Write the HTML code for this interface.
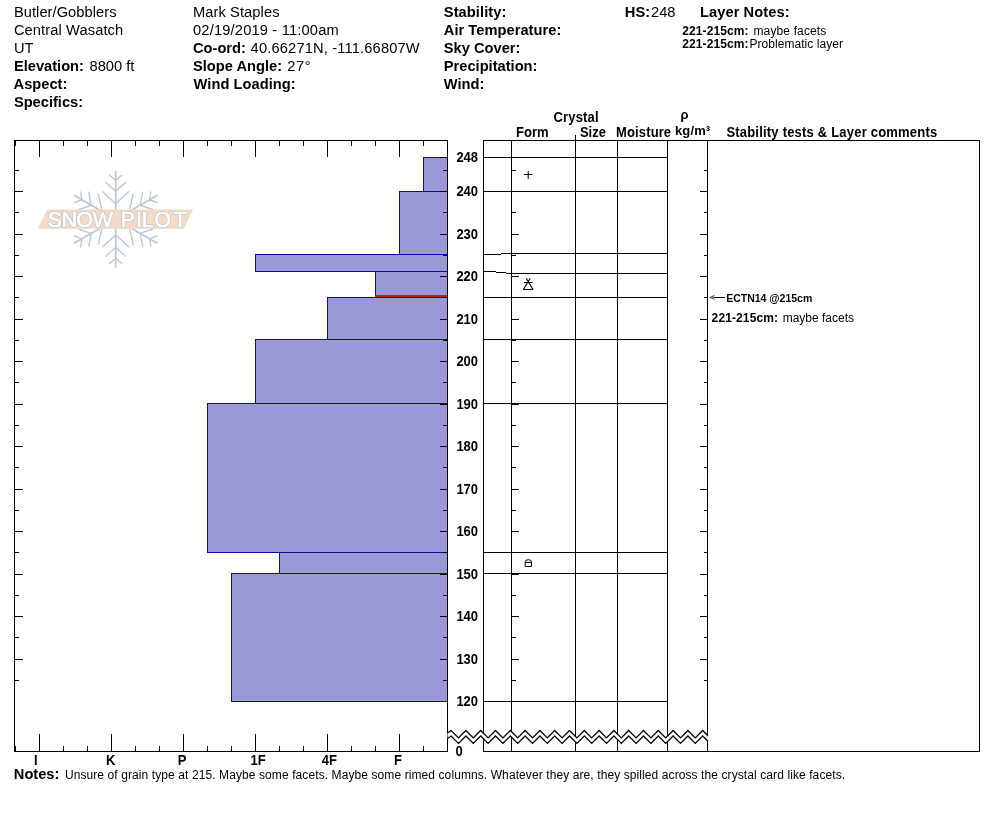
<!DOCTYPE html>
<html lang="en"><head><meta charset="utf-8"><title>Snow Pilot Pit Profile</title>
<style>
html,body{margin:0;padding:0;background:#fff;}
body{width:994px;height:840px;overflow:hidden;}
svg{display:block;}
text{font-family:"Liberation Sans",sans-serif;fill:#000;white-space:pre;}
</style></head><body>
<svg width="994" height="840" viewBox="0 0 994 840">
<rect width="994" height="840" fill="#fff"/>
<g shape-rendering="geometricPrecision"><g transform="translate(115.7,219.3) rotate(0)" stroke="#BAC7D1" stroke-linecap="round" fill="none"><line x1="0" y1="0" x2="0" y2="-47.6" stroke-width="1.7"/><path d="M-6.22,-44.13 L0,-39.1 L6.22,-44.13" stroke-width="1.35"/><path d="M-9.96,-36.86 L0,-28.2 L9.96,-36.86" stroke-width="1.35"/><path d="M-12.87,-27.50 L0,-15.5 L12.87,-27.50" stroke-width="1.35"/></g><g transform="translate(115.7,219.3) rotate(-60)" stroke="#BAC7D1" stroke-linecap="round" fill="none"><line x1="0" y1="0" x2="0" y2="-47.6" stroke-width="1.7"/><path d="M-6.22,-44.13 L0,-39.1 L6.22,-44.13" stroke-width="1.35"/><path d="M-9.96,-36.86 L0,-28.2 L9.96,-36.86" stroke-width="1.35"/><path d="M-12.87,-27.50 L0,-15.5 L12.87,-27.50" stroke-width="1.35"/></g><g transform="translate(115.7,219.3) rotate(-120)" stroke="#BAC7D1" stroke-linecap="round" fill="none"><line x1="0" y1="0" x2="0" y2="-47.6" stroke-width="1.7"/><path d="M-6.22,-44.13 L0,-39.1 L6.22,-44.13" stroke-width="1.35"/><path d="M-9.96,-36.86 L0,-28.2 L9.96,-36.86" stroke-width="1.35"/><path d="M-12.87,-27.50 L0,-15.5 L12.87,-27.50" stroke-width="1.35"/></g><g transform="translate(115.7,219.3) rotate(-180)" stroke="#BAC7D1" stroke-linecap="round" fill="none"><line x1="0" y1="0" x2="0" y2="-47.6" stroke-width="1.7"/><path d="M-6.22,-44.13 L0,-39.1 L6.22,-44.13" stroke-width="1.35"/><path d="M-9.96,-36.86 L0,-28.2 L9.96,-36.86" stroke-width="1.35"/><path d="M-12.87,-27.50 L0,-15.5 L12.87,-27.50" stroke-width="1.35"/></g><g transform="translate(115.7,219.3) rotate(-240)" stroke="#BAC7D1" stroke-linecap="round" fill="none"><line x1="0" y1="0" x2="0" y2="-47.6" stroke-width="1.7"/><path d="M-6.22,-44.13 L0,-39.1 L6.22,-44.13" stroke-width="1.35"/><path d="M-9.96,-36.86 L0,-28.2 L9.96,-36.86" stroke-width="1.35"/><path d="M-12.87,-27.50 L0,-15.5 L12.87,-27.50" stroke-width="1.35"/></g><g transform="translate(115.7,219.3) rotate(-300)" stroke="#BAC7D1" stroke-linecap="round" fill="none"><line x1="0" y1="0" x2="0" y2="-47.6" stroke-width="1.7"/><path d="M-6.22,-44.13 L0,-39.1 L6.22,-44.13" stroke-width="1.35"/><path d="M-9.96,-36.86 L0,-28.2 L9.96,-36.86" stroke-width="1.35"/><path d="M-12.87,-27.50 L0,-15.5 L12.87,-27.50" stroke-width="1.35"/></g>
<polygon points="47.2,209.5 193.2,209.5 183.8,228.8 37.8,228.8" fill="#F1DBC8"/>
<g font-size="21.6" stroke-linejoin="round"><text style="fill:#AEBAC6;stroke:#AEBAC6;stroke-width:1.7px" x="47.6 61.5 76.3 92.6" y="227.3">SNOW</text><text style="fill:#AEBAC6;stroke:#AEBAC6;stroke-width:1.7px" x="120.6 136.0 141.7 154.3 173.5" y="227.3">PILOT</text><text style="fill:#fff;stroke:#fff;stroke-width:0.7px" x="47.6 61.5 76.3 92.6" y="227.3">SNOW</text><text style="fill:#fff;stroke:#fff;stroke-width:0.7px" x="120.6 136.0 141.7 154.3 173.5" y="227.3">PILOT</text></g></g>
<g shape-rendering="crispEdges">
<rect x="423" y="157" width="24" height="35" fill="#0D08A6"/>
<rect x="424" y="158" width="23" height="33" fill="#9B99D5"/>
<rect x="399" y="191" width="48" height="64" fill="#0D08A6"/>
<rect x="400" y="192" width="47" height="62" fill="#9B99D5"/>
<rect x="255" y="254" width="192" height="18" fill="#0D08A6"/>
<rect x="256" y="255" width="191" height="16" fill="#9B99D5"/>
<rect x="375" y="271" width="72" height="27" fill="#0D08A6"/>
<rect x="376" y="272" width="71" height="25" fill="#9B99D5"/>
<rect x="327" y="297" width="120" height="43" fill="#0D08A6"/>
<rect x="328" y="298" width="119" height="41" fill="#9B99D5"/>
<rect x="255" y="339" width="192" height="65" fill="#0D08A6"/>
<rect x="256" y="340" width="191" height="63" fill="#9B99D5"/>
<rect x="207" y="403" width="240" height="150" fill="#0D08A6"/>
<rect x="208" y="404" width="239" height="148" fill="#9B99D5"/>
<rect x="279" y="552" width="168" height="22" fill="#0D08A6"/>
<rect x="280" y="553" width="167" height="20" fill="#9B99D5"/>
<rect x="231" y="573" width="216" height="129" fill="#0D08A6"/>
<rect x="232" y="574" width="215" height="127" fill="#9B99D5"/>
<rect x="375" y="295" width="72" height="2" fill="#BC2016"/>
<rect x="14" y="140" width="434" height="1" fill="#000"/>
<rect x="14" y="751" width="434" height="1" fill="#000"/>
<rect x="14" y="140" width="1" height="612" fill="#000"/>
<rect x="447" y="140" width="1" height="612" fill="#000"/>
<rect x="15" y="141" width="1" height="5" fill="#000"/>
<rect x="15" y="746" width="1" height="5" fill="#000"/>
<rect x="39" y="141" width="1" height="16" fill="#000"/>
<rect x="39" y="734" width="1" height="17" fill="#000"/>
<rect x="63" y="141" width="1" height="5" fill="#000"/>
<rect x="63" y="746" width="1" height="5" fill="#000"/>
<rect x="87" y="141" width="1" height="5" fill="#000"/>
<rect x="87" y="746" width="1" height="5" fill="#000"/>
<rect x="111" y="141" width="1" height="16" fill="#000"/>
<rect x="111" y="734" width="1" height="17" fill="#000"/>
<rect x="135" y="141" width="1" height="5" fill="#000"/>
<rect x="135" y="746" width="1" height="5" fill="#000"/>
<rect x="159" y="141" width="1" height="5" fill="#000"/>
<rect x="159" y="746" width="1" height="5" fill="#000"/>
<rect x="183" y="141" width="1" height="16" fill="#000"/>
<rect x="183" y="734" width="1" height="17" fill="#000"/>
<rect x="207" y="141" width="1" height="5" fill="#000"/>
<rect x="207" y="746" width="1" height="5" fill="#000"/>
<rect x="231" y="141" width="1" height="5" fill="#000"/>
<rect x="231" y="746" width="1" height="5" fill="#000"/>
<rect x="255" y="141" width="1" height="16" fill="#000"/>
<rect x="255" y="734" width="1" height="17" fill="#000"/>
<rect x="279" y="141" width="1" height="5" fill="#000"/>
<rect x="279" y="746" width="1" height="5" fill="#000"/>
<rect x="303" y="141" width="1" height="5" fill="#000"/>
<rect x="303" y="746" width="1" height="5" fill="#000"/>
<rect x="327" y="141" width="1" height="16" fill="#000"/>
<rect x="327" y="734" width="1" height="17" fill="#000"/>
<rect x="351" y="141" width="1" height="5" fill="#000"/>
<rect x="351" y="746" width="1" height="5" fill="#000"/>
<rect x="375" y="141" width="1" height="5" fill="#000"/>
<rect x="375" y="746" width="1" height="5" fill="#000"/>
<rect x="399" y="141" width="1" height="16" fill="#000"/>
<rect x="399" y="734" width="1" height="17" fill="#000"/>
<rect x="423" y="141" width="1" height="5" fill="#000"/>
<rect x="423" y="746" width="1" height="5" fill="#000"/>
<rect x="15" y="680" width="4" height="1" fill="#000"/>
<rect x="443" y="680" width="4" height="1" fill="#000"/>
<rect x="512" y="680" width="4" height="1" fill="#000"/>
<rect x="704" y="680" width="3" height="1" fill="#000"/>
<rect x="15" y="659" width="8" height="1" fill="#000"/>
<rect x="440" y="659" width="7" height="1" fill="#000"/>
<rect x="512" y="659" width="7" height="1" fill="#000"/>
<rect x="700" y="659" width="7" height="1" fill="#000"/>
<rect x="15" y="637" width="4" height="1" fill="#000"/>
<rect x="443" y="637" width="4" height="1" fill="#000"/>
<rect x="512" y="637" width="4" height="1" fill="#000"/>
<rect x="704" y="637" width="3" height="1" fill="#000"/>
<rect x="15" y="616" width="8" height="1" fill="#000"/>
<rect x="440" y="616" width="7" height="1" fill="#000"/>
<rect x="512" y="616" width="7" height="1" fill="#000"/>
<rect x="700" y="616" width="7" height="1" fill="#000"/>
<rect x="15" y="595" width="4" height="1" fill="#000"/>
<rect x="443" y="595" width="4" height="1" fill="#000"/>
<rect x="512" y="595" width="4" height="1" fill="#000"/>
<rect x="704" y="595" width="3" height="1" fill="#000"/>
<rect x="15" y="574" width="8" height="1" fill="#000"/>
<rect x="440" y="574" width="7" height="1" fill="#000"/>
<rect x="512" y="574" width="7" height="1" fill="#000"/>
<rect x="700" y="574" width="7" height="1" fill="#000"/>
<rect x="15" y="552" width="4" height="1" fill="#000"/>
<rect x="443" y="552" width="4" height="1" fill="#000"/>
<rect x="512" y="552" width="4" height="1" fill="#000"/>
<rect x="704" y="552" width="3" height="1" fill="#000"/>
<rect x="15" y="531" width="8" height="1" fill="#000"/>
<rect x="440" y="531" width="7" height="1" fill="#000"/>
<rect x="512" y="531" width="7" height="1" fill="#000"/>
<rect x="700" y="531" width="7" height="1" fill="#000"/>
<rect x="15" y="510" width="4" height="1" fill="#000"/>
<rect x="443" y="510" width="4" height="1" fill="#000"/>
<rect x="512" y="510" width="4" height="1" fill="#000"/>
<rect x="704" y="510" width="3" height="1" fill="#000"/>
<rect x="15" y="489" width="8" height="1" fill="#000"/>
<rect x="440" y="489" width="7" height="1" fill="#000"/>
<rect x="512" y="489" width="7" height="1" fill="#000"/>
<rect x="700" y="489" width="7" height="1" fill="#000"/>
<rect x="15" y="467" width="4" height="1" fill="#000"/>
<rect x="443" y="467" width="4" height="1" fill="#000"/>
<rect x="512" y="467" width="4" height="1" fill="#000"/>
<rect x="704" y="467" width="3" height="1" fill="#000"/>
<rect x="15" y="446" width="8" height="1" fill="#000"/>
<rect x="440" y="446" width="7" height="1" fill="#000"/>
<rect x="512" y="446" width="7" height="1" fill="#000"/>
<rect x="700" y="446" width="7" height="1" fill="#000"/>
<rect x="15" y="425" width="4" height="1" fill="#000"/>
<rect x="443" y="425" width="4" height="1" fill="#000"/>
<rect x="512" y="425" width="4" height="1" fill="#000"/>
<rect x="704" y="425" width="3" height="1" fill="#000"/>
<rect x="15" y="404" width="8" height="1" fill="#000"/>
<rect x="440" y="404" width="7" height="1" fill="#000"/>
<rect x="512" y="404" width="7" height="1" fill="#000"/>
<rect x="700" y="404" width="7" height="1" fill="#000"/>
<rect x="15" y="382" width="4" height="1" fill="#000"/>
<rect x="443" y="382" width="4" height="1" fill="#000"/>
<rect x="512" y="382" width="4" height="1" fill="#000"/>
<rect x="704" y="382" width="3" height="1" fill="#000"/>
<rect x="15" y="361" width="8" height="1" fill="#000"/>
<rect x="440" y="361" width="7" height="1" fill="#000"/>
<rect x="512" y="361" width="7" height="1" fill="#000"/>
<rect x="700" y="361" width="7" height="1" fill="#000"/>
<rect x="15" y="340" width="4" height="1" fill="#000"/>
<rect x="443" y="340" width="4" height="1" fill="#000"/>
<rect x="512" y="340" width="4" height="1" fill="#000"/>
<rect x="704" y="340" width="3" height="1" fill="#000"/>
<rect x="15" y="319" width="8" height="1" fill="#000"/>
<rect x="440" y="319" width="7" height="1" fill="#000"/>
<rect x="512" y="319" width="7" height="1" fill="#000"/>
<rect x="700" y="319" width="7" height="1" fill="#000"/>
<rect x="15" y="297" width="4" height="1" fill="#000"/>
<rect x="443" y="297" width="4" height="1" fill="#000"/>
<rect x="512" y="297" width="4" height="1" fill="#000"/>
<rect x="704" y="297" width="3" height="1" fill="#000"/>
<rect x="15" y="276" width="8" height="1" fill="#000"/>
<rect x="440" y="276" width="7" height="1" fill="#000"/>
<rect x="512" y="276" width="7" height="1" fill="#000"/>
<rect x="700" y="276" width="7" height="1" fill="#000"/>
<rect x="15" y="255" width="4" height="1" fill="#000"/>
<rect x="443" y="255" width="4" height="1" fill="#000"/>
<rect x="512" y="255" width="4" height="1" fill="#000"/>
<rect x="704" y="255" width="3" height="1" fill="#000"/>
<rect x="15" y="234" width="8" height="1" fill="#000"/>
<rect x="440" y="234" width="7" height="1" fill="#000"/>
<rect x="512" y="234" width="7" height="1" fill="#000"/>
<rect x="700" y="234" width="7" height="1" fill="#000"/>
<rect x="15" y="212" width="4" height="1" fill="#000"/>
<rect x="443" y="212" width="4" height="1" fill="#000"/>
<rect x="512" y="212" width="4" height="1" fill="#000"/>
<rect x="704" y="212" width="3" height="1" fill="#000"/>
<rect x="15" y="191" width="8" height="1" fill="#000"/>
<rect x="440" y="191" width="7" height="1" fill="#000"/>
<rect x="512" y="191" width="7" height="1" fill="#000"/>
<rect x="700" y="191" width="7" height="1" fill="#000"/>
<rect x="15" y="170" width="4" height="1" fill="#000"/>
<rect x="443" y="170" width="4" height="1" fill="#000"/>
<rect x="512" y="170" width="4" height="1" fill="#000"/>
<rect x="704" y="170" width="3" height="1" fill="#000"/>
<rect x="440" y="157" width="7" height="1" fill="#000"/>
<rect x="483" y="140" width="1" height="612" fill="#000"/>
<rect x="511" y="140" width="1" height="612" fill="#000"/>
<rect x="617" y="140" width="1" height="612" fill="#000"/>
<rect x="667" y="140" width="1" height="612" fill="#000"/>
<rect x="707" y="140" width="1" height="612" fill="#000"/>
<rect x="979" y="140" width="1" height="612" fill="#000"/>
<rect x="575" y="135" width="1" height="617" fill="#000"/>
<rect x="483" y="140" width="497" height="1" fill="#000"/>
<rect x="483" y="751" width="497" height="1" fill="#000"/>
<rect x="483" y="157" width="185" height="1" fill="#000"/>
<rect x="483" y="191" width="185" height="1" fill="#000"/>
<rect x="483" y="297" width="185" height="1" fill="#000"/>
<rect x="483" y="339" width="185" height="1" fill="#000"/>
<rect x="483" y="403" width="185" height="1" fill="#000"/>
<rect x="483" y="552" width="185" height="1" fill="#000"/>
<rect x="483" y="573" width="185" height="1" fill="#000"/>
<rect x="483" y="701" width="185" height="1" fill="#000"/>
<rect x="511" y="253" width="157" height="1" fill="#000"/>
<rect x="511" y="273" width="157" height="1" fill="#000"/>
</g>
<g shape-rendering="crispEdges">
<rect x="483" y="254" width="18" height="1" fill="#000"/>
<rect x="501" y="253" width="11" height="1" fill="#000"/>
<rect x="483" y="271" width="13" height="1" fill="#000"/>
<rect x="496" y="272" width="10" height="1" fill="#000"/>
<rect x="506" y="273" width="6" height="1" fill="#000"/>
</g>
<polygon points="447.5,733.0 451.1,730.5 458.5,737.9 465.9,730.5 473.3,737.9 480.7,730.5 488.1,737.9 495.5,730.5 502.9,737.9 510.3,730.5 517.7,737.9 525.1,730.5 532.5,737.9 539.9,730.5 547.3,737.9 554.7,730.5 562.1,737.9 569.5,730.5 576.9,737.9 584.3,730.5 591.7,737.9 599.1,730.5 606.5,737.9 613.9,730.5 621.3,737.9 628.7,730.5 636.1,737.9 643.5,730.5 650.9,737.9 658.3,730.5 665.7,737.9 673.1,730.5 680.5,737.9 687.9,730.5 695.3,737.9 702.7,730.5 707.9,735.7 707.9,741.2 702.7,736.0 695.3,743.4 687.9,736.0 680.5,743.4 673.1,736.0 665.7,743.4 658.3,736.0 650.9,743.4 643.5,736.0 636.1,743.4 628.7,736.0 621.3,743.4 613.9,736.0 606.5,743.4 599.1,736.0 591.7,743.4 584.3,736.0 576.9,743.4 569.5,736.0 562.1,743.4 554.7,736.0 547.3,743.4 539.9,736.0 532.5,743.4 525.1,736.0 517.7,743.4 510.3,736.0 502.9,743.4 495.5,736.0 488.1,743.4 480.7,736.0 473.3,743.4 465.9,736.0 458.5,743.4 451.1,736.0 447.5,738.5" fill="#fff"/>
<polyline points="447.5,733.0 451.1,730.5 458.5,737.9 465.9,730.5 473.3,737.9 480.7,730.5 488.1,737.9 495.5,730.5 502.9,737.9 510.3,730.5 517.7,737.9 525.1,730.5 532.5,737.9 539.9,730.5 547.3,737.9 554.7,730.5 562.1,737.9 569.5,730.5 576.9,737.9 584.3,730.5 591.7,737.9 599.1,730.5 606.5,737.9 613.9,730.5 621.3,737.9 628.7,730.5 636.1,737.9 643.5,730.5 650.9,737.9 658.3,730.5 665.7,737.9 673.1,730.5 680.5,737.9 687.9,730.5 695.3,737.9 702.7,730.5 707.9,735.7" fill="none" stroke="#000" stroke-width="1.25"/>
<polyline points="447.5,738.5 451.1,736.0 458.5,743.4 465.9,736.0 473.3,743.4 480.7,736.0 488.1,743.4 495.5,736.0 502.9,743.4 510.3,736.0 517.7,743.4 525.1,736.0 532.5,743.4 539.9,736.0 547.3,743.4 554.7,736.0 562.1,743.4 569.5,736.0 576.9,743.4 584.3,736.0 591.7,743.4 599.1,736.0 606.5,743.4 613.9,736.0 621.3,743.4 628.7,736.0 636.1,743.4 643.5,736.0 650.9,743.4 658.3,736.0 665.7,743.4 673.1,736.0 680.5,743.4 687.9,736.0 695.3,743.4 702.7,736.0 707.9,741.2" fill="none" stroke="#000" stroke-width="1.25"/>
<g stroke="#000" stroke-width="1" fill="none"><path d="M524,174.5 H532.6 M528.2,171 V179"/><path d="M523.3,289.5 L530.3,278.3 M533,289.5 L526.2,278.3 M523,289.5 H533.2 M524,282.5 H532.6" stroke-width="1.1"/><path d="M525.2,566.5 V562.1 A3.15,2.4 0 0 1 531.5,562.1 V566.5 Z M525.2,562.4 H531.5"/><path d="M714,297.5 H725"/></g>
<polygon points="708.8,297.4 714.9,294.4 713.6,297.4 714.9,300.2" fill="#707070"/>
<g>
<text x="13.9" y="17" font-size="14.67" textLength="102.6" lengthAdjust="spacing">Butler/Gobblers</text>
<text x="13.9" y="35" font-size="14.67" textLength="109.3" lengthAdjust="spacing">Central Wasatch</text>
<text x="13.9" y="53" font-size="14.67">UT</text>
<text x="13.9" y="71" font-size="14.67" font-weight="bold">Elevation:</text>
<text x="89.5" y="71" font-size="14.67">8800 ft</text>
<text x="13.6" y="89" font-size="14.67" font-weight="bold">Aspect:</text>
<text x="13.9" y="107" font-size="14.67" font-weight="bold">Specifics:</text>
<text x="193.0" y="17" font-size="14.67" textLength="86.5" lengthAdjust="spacing">Mark Staples</text>
<text x="193.0" y="35" font-size="14.67" textLength="145.7" lengthAdjust="spacing">02/19/2019 - 11:00am</text>
<text x="193.0" y="53" font-size="14.67" font-weight="bold">Co-ord:</text>
<text x="250.6" y="53" font-size="14.67" textLength="169.1" lengthAdjust="spacing">40.66271N, -111.66807W</text>
<text x="193.0" y="71" font-size="14.67" font-weight="bold">Slope Angle:</text>
<text x="287.3" y="71" font-size="14.67" textLength="23.4" lengthAdjust="spacing">27°</text>
<text x="193.5" y="89" font-size="14.67" font-weight="bold" textLength="102.2" lengthAdjust="spacing">Wind Loading:</text>
<text x="443.8" y="17" font-size="14.67" font-weight="bold" textLength="62.6" lengthAdjust="spacing">Stability:</text>
<text x="443.8" y="35" font-size="14.67" font-weight="bold" textLength="117.5" lengthAdjust="spacing">Air Temperature:</text>
<text x="443.8" y="53" font-size="14.67" font-weight="bold">Sky Cover:</text>
<text x="443.8" y="71" font-size="14.67" font-weight="bold">Precipitation:</text>
<text x="443.8" y="89" font-size="14.67" font-weight="bold">Wind:</text>
<text x="624.8" y="17" font-size="14.67" font-weight="bold">HS:</text>
<text x="651.0" y="17" font-size="14.67">248</text>
<text x="699.9" y="17" font-size="14.67" font-weight="bold" textLength="89.7" lengthAdjust="spacing">Layer Notes:</text>
<text x="682.2" y="35" font-size="12" font-weight="bold" textLength="66.4" lengthAdjust="spacing">221-215cm:</text>
<text x="753.5" y="35" font-size="12" textLength="72.8" lengthAdjust="spacing">maybe facets</text>
<text x="682.2" y="48" font-size="12" font-weight="bold" textLength="66.4" lengthAdjust="spacing">221-215cm:</text>
<text x="749.4" y="48" font-size="12" textLength="93.5" lengthAdjust="spacing">Problematic layer</text>
<text transform="translate(553.5,122) scale(1,1.107)" font-size="13" font-weight="bold" textLength="45.1" lengthAdjust="spacing">Crystal</text>
<text transform="translate(516.1,137) scale(1,1.107)" font-size="13" font-weight="bold">Form</text>
<text transform="translate(579.9,137) scale(1,1.107)" font-size="13" font-weight="bold">Size</text>
<text transform="translate(616.1,137) scale(1,1.107)" font-size="13" font-weight="bold" textLength="55.0" lengthAdjust="spacing">Moisture</text>
<text x="680.6" y="118.6" font-size="13" font-weight="bold">ρ</text>
<text x="674.9" y="135" font-size="13" font-weight="bold" textLength="35.3" lengthAdjust="spacing">kg/m³</text>
<text transform="translate(726.4,137) scale(1,1.107)" font-size="13" font-weight="bold" textLength="210.8" lengthAdjust="spacing">Stability tests &amp; Layer comments</text>
<text transform="translate(455.6,756) scale(1,1.107)" font-size="13" font-weight="bold">0</text>
<text x="13.8" y="779" font-size="14.67" font-weight="bold">Notes:</text>
<text x="64.9" y="779" font-size="12" textLength="780.2" lengthAdjust="spacing">Unsure of grain type at 215. Maybe some facets. Maybe some rimed columns. Whatever they are, they spilled across the crystal card like facets.</text>
<text x="726.2" y="302" font-size="10.5" font-weight="bold">ECTN14 @215cm</text>
<text x="711.6" y="322" font-size="12" font-weight="bold" textLength="66.4" lengthAdjust="spacing">221-215cm:</text>
<text x="782.7" y="322" font-size="12">maybe facets</text>
<text transform="translate(456.4,162) scale(1,1.107)" font-size="13" font-weight="bold">248</text>
<text transform="translate(456.4,196) scale(1,1.107)" font-size="13" font-weight="bold">240</text>
<text transform="translate(456.4,239) scale(1,1.107)" font-size="13" font-weight="bold">230</text>
<text transform="translate(456.4,281) scale(1,1.107)" font-size="13" font-weight="bold">220</text>
<text transform="translate(456.4,324) scale(1,1.107)" font-size="13" font-weight="bold">210</text>
<text transform="translate(456.4,366) scale(1,1.107)" font-size="13" font-weight="bold">200</text>
<text transform="translate(456.4,409) scale(1,1.107)" font-size="13" font-weight="bold">190</text>
<text transform="translate(456.4,451) scale(1,1.107)" font-size="13" font-weight="bold">180</text>
<text transform="translate(456.4,494) scale(1,1.107)" font-size="13" font-weight="bold">170</text>
<text transform="translate(456.4,536) scale(1,1.107)" font-size="13" font-weight="bold">160</text>
<text transform="translate(456.4,579) scale(1,1.107)" font-size="13" font-weight="bold">150</text>
<text transform="translate(456.4,621) scale(1,1.107)" font-size="13" font-weight="bold">140</text>
<text transform="translate(456.4,664) scale(1,1.107)" font-size="13" font-weight="bold">130</text>
<text transform="translate(456.4,706) scale(1,1.107)" font-size="13" font-weight="bold">120</text>
<text transform="translate(34.1,765) scale(1,1.107)" font-size="13" font-weight="bold">I</text>
<text transform="translate(106.1,765) scale(1,1.107)" font-size="13" font-weight="bold">K</text>
<text transform="translate(177.8,765) scale(1,1.107)" font-size="13" font-weight="bold">P</text>
<text transform="translate(250.6,765) scale(1,1.107)" font-size="13" font-weight="bold">1F</text>
<text transform="translate(321.8,765) scale(1,1.107)" font-size="13" font-weight="bold">4F</text>
<text transform="translate(393.9,765) scale(1,1.107)" font-size="13" font-weight="bold">F</text>
</g>
</svg>
</body></html>
